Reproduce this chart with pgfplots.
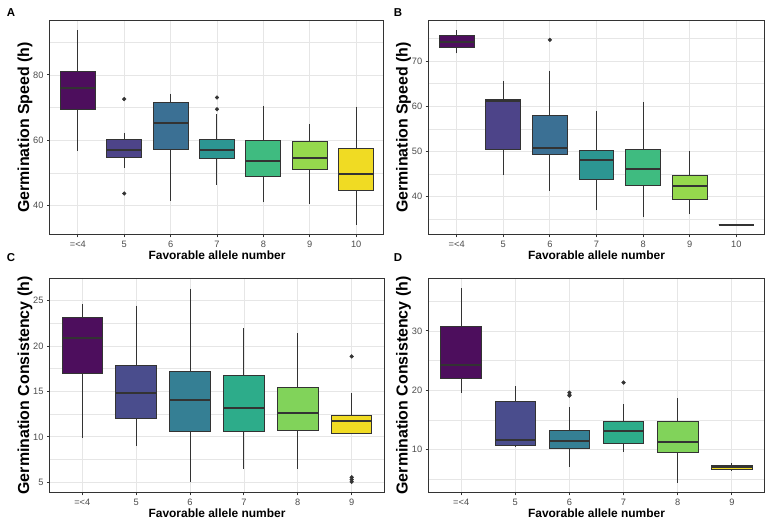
\documentclass[border=0pt]{standalone}
\usepackage{pgfplots}
\pgfplotsset{compat=1.18}
\usepackage{pgfplotstable}
\usepgfplotslibrary{statistics}
\usepackage{fontspec}
\setmainfont{Liberation Sans}

\definecolor{gB}{HTML}{333333}
\definecolor{tickc}{HTML}{4D4D4D}
\definecolor{gridc}{HTML}{E6E6E6}
% viridis 7
\definecolor{sa1}{HTML}{440154}\colorlet{a1}{sa1!95!white}
\definecolor{sa2}{HTML}{443A83}\colorlet{a2}{sa2!95!white}
\definecolor{sa3}{HTML}{31688E}\colorlet{a3}{sa3!95!white}
\definecolor{sa4}{HTML}{21908C}\colorlet{a4}{sa4!95!white}
\definecolor{sa5}{HTML}{35B779}\colorlet{a5}{sa5!95!white}
\definecolor{sa6}{HTML}{8FD744}\colorlet{a6}{sa6!95!white}
\definecolor{sa7}{HTML}{FDE725}\colorlet{a7}{sa7!95!black}
% viridis 6
\definecolor{sc1}{HTML}{440154}\colorlet{c1}{sc1!95!white}
\definecolor{sc2}{HTML}{414487}\colorlet{c2}{sc2!95!white}
\definecolor{sc3}{HTML}{2A788E}\colorlet{c3}{sc3!95!white}
\definecolor{sc4}{HTML}{22A884}\colorlet{c4}{sc4!95!white}
\definecolor{sc5}{HTML}{7AD151}\colorlet{c5}{sc5!95!white}
\definecolor{sc6}{HTML}{FDE725}\colorlet{c6}{sc6!95!black}

% Panel A: germination speed
\pgfplotstableread{
pos lw lq med uq uw
1 56.8 69.5 75.9 81.0 93.6
2 51.6 54.8 56.9 60.3 62.3
3 41.5 57.1 65.2 71.5 74.3
4 46.4 54.5 56.9 60.1 68.0
5 41.0 49.0 53.6 60.0 70.6
6 40.6 51.1 54.6 59.6 65.1
7 34.2 44.5 49.8 57.5 70.3
}\tA
\pgfplotstableread{
x y
2 72.6
2 43.7
4 73.1
4 69.5
}\oA
% Panel B
\pgfplotstableread{
pos lw lq med uq uw
1 71.7 72.9 74.3 75.6 76.8
2 44.7 50.4 61.25 61.5 65.5
3 41.2 49.3 50.8 57.9 67.9
4 36.9 43.7 48.1 50.1 59.0
5 35.4 42.4 46.1 50.3 60.9
6 36.0 39.3 42.2 44.6 50.1
7 33.75 33.75 33.75 33.75 33.75
}\tB
\pgfplotstableread{
x y
3 74.7
}\oB
% Panel C
\pgfplotstableread{
pos lw lq med uq uw
1 9.9 17.0 20.9 23.15 24.6
2 9.0 12.05 14.85 17.8 24.45
3 5.0 10.55 14.05 17.2 26.3
4 6.5 10.6 13.2 16.7 21.95
5 6.5 10.7 12.6 15.4 21.4
6 10.3 10.4 11.7 12.3 14.8
}\tC
\pgfplotstableread{
x y
6 18.85
6 5.55
6 5.3
6 5.05
}\oC
% Panel D
\pgfplotstableread{
pos lw lq med uq uw
1 19.6 22.0 24.2 30.7 37.2
2 10.4 10.7 11.6 18.1 20.7
3 7.1 10.1 11.45 13.2 17.2
4 9.6 11.1 13.1 14.65 17.6
5 4.45 9.55 11.2 14.65 18.7
6 6.35 6.7 7.05 7.4 7.8
}\tD
\pgfplotstableread{
x y
3 19.6
3 19.2
3 19.1
4 21.3
}\oD

\newcommand{\bx}[3]{%
  \pgfplotstablegetelem{#2}{pos}\of#1\let\vpos\pgfplotsretval
  \pgfplotstablegetelem{#2}{lw}\of#1\let\vlw\pgfplotsretval
  \pgfplotstablegetelem{#2}{lq}\of#1\let\vlq\pgfplotsretval
  \pgfplotstablegetelem{#2}{med}\of#1\let\vmed\pgfplotsretval
  \pgfplotstablegetelem{#2}{uq}\of#1\let\vuq\pgfplotsretval
  \pgfplotstablegetelem{#2}{uw}\of#1\let\vuw\pgfplotsretval
  \edef\tmp{\noexpand\addplot[draw=gB, fill=#3, line width=1bp,
    boxplot prepared={draw direction=y, draw position=\vpos, lower whisker=\vlw,
      lower quartile=\vlq, median=\vmed, upper quartile=\vuq, upper whisker=\vuw}] coordinates {};}%
  \tmp}

\pgfplotsset{
  gg/.style={
    scale only axis, height=213.6bp,
    axis line style={draw=gB, line width=1bp},
    tick align=outside, xtick pos=left, ytick pos=left,
    major tick length=3bp, minor tick length=0pt,
    tick style={draw=gB, line width=0.9bp},
    xmajorgrids, ymajorgrids, yminorgrids,
    major grid style={draw=gridc, line width=0.8bp},
    minor grid style={draw=gridc, line width=0.45bp},
    /pgf/number format/assume math mode=true,
    ticklabel style={font=\fontsize{9.3}{10}\selectfont, text=tickc},
    every axis x label/.style={at={(axis description cs:0.5,-0.1)}, anchor=center,
      font=\bfseries\fontsize{12}{14}\selectfont},
    every axis y label/.style={at={(axis description cs:-0.075,0.5)}, anchor=center, rotate=90,
      font=\bfseries\fontsize{16}{18}\selectfont},
    boxplot/draw direction=y,
    boxplot/box extend=0.75,
    boxplot/whisker extend=0,
    boxplot/every median/.style={line width=2bp},
    xlabel={Favorable allele number},
  },
  outl/.style={only marks, mark=*, mark size=1.9bp, draw=gB, fill=gB},
}

\begin{document}
\begin{tikzpicture}
\useasboundingbox (0,0) rectangle (767bp,-519bp);
\fill[white] (0,0) rectangle (767bp,-519bp);

% Panel A
\begin{axis}[gg, at={(50bp,-234.3bp)}, anchor=south west, width=334bp,
  xmin=0.4, xmax=7.6, ymin=31.2, ymax=96.6,
  xtick={1,2,3,4,5,6,7}, xticklabels={{=<4},5,6,7,8,9,10},
  ytick={40,60,80}, minor ytick={50,70,90},
  ylabel={Germination Speed (h)}]
\bx{\tA}{0}{a1}\bx{\tA}{1}{a2}\bx{\tA}{2}{a3}\bx{\tA}{3}{a4}
\bx{\tA}{4}{a5}\bx{\tA}{5}{a6}\bx{\tA}{6}{a7}
\addplot[outl] table[x=x,y=y] {\oA};
\end{axis}

% Panel B
\begin{axis}[gg, at={(428.7bp,-234.3bp)}, anchor=south west, width=335.6bp,
  xmin=0.4, xmax=7.6, ymin=31.6, ymax=78.95,
  xtick={1,2,3,4,5,6,7}, xticklabels={{=<4},5,6,7,8,9,10},
  ytick={40,50,60,70}, minor ytick={35,45,55,65,75},
  ylabel={Germination Speed (h)}]
\bx{\tB}{0}{a1}\bx{\tB}{1}{a2}\bx{\tB}{2}{a3}\bx{\tB}{3}{a4}
\bx{\tB}{4}{a5}\bx{\tB}{5}{a6}\bx{\tB}{6}{a7}
\addplot[outl] table[x=x,y=y] {\oB};
\end{axis}

% Panel C
\begin{axis}[gg, at={(50bp,-492.3bp)}, anchor=south west, width=334bp,
  xmin=0.4, xmax=6.6, ymin=3.9, ymax=27.4,
  xtick={1,2,3,4,5,6}, xticklabels={{=<4},5,6,7,8,9},
  ytick={5,10,15,20,25}, minor ytick={7.5,12.5,17.5,22.5},
  ylabel={Germination Consistency (h)}]
\bx{\tC}{0}{c1}\bx{\tC}{1}{c2}\bx{\tC}{2}{c3}\bx{\tC}{3}{c4}
\bx{\tC}{4}{c5}\bx{\tC}{5}{c6}
\addplot[outl] table[x=x,y=y] {\oC};
\end{axis}

% Panel D
\begin{axis}[gg, at={(428.7bp,-492.3bp)}, anchor=south west, width=335.6bp,
  xmin=0.4, xmax=6.6, ymin=2.8, ymax=38.8,
  xtick={1,2,3,4,5,6}, xticklabels={{=<4},5,6,7,8,9},
  ytick={10,20,30}, minor ytick={5,15,25,35},
  ylabel={Germination Consistency (h)}]
\bx{\tD}{0}{c1}\bx{\tD}{1}{c2}\bx{\tD}{2}{c3}\bx{\tD}{3}{c4}
\bx{\tD}{4}{c5}\bx{\tD}{5}{c6}
\addplot[outl] table[x=x,y=y] {\oD};
\end{axis}

\begin{scope}[every node/.style={font=\bfseries\fontsize{11.5}{12}\selectfont}]
\node at (11bp,-12.7bp) {A};
\node at (398bp,-12.7bp) {B};
\node at (11bp,-258bp) {C};
\node at (398bp,-258bp) {D};
\end{scope}
\end{tikzpicture}
\end{document}
